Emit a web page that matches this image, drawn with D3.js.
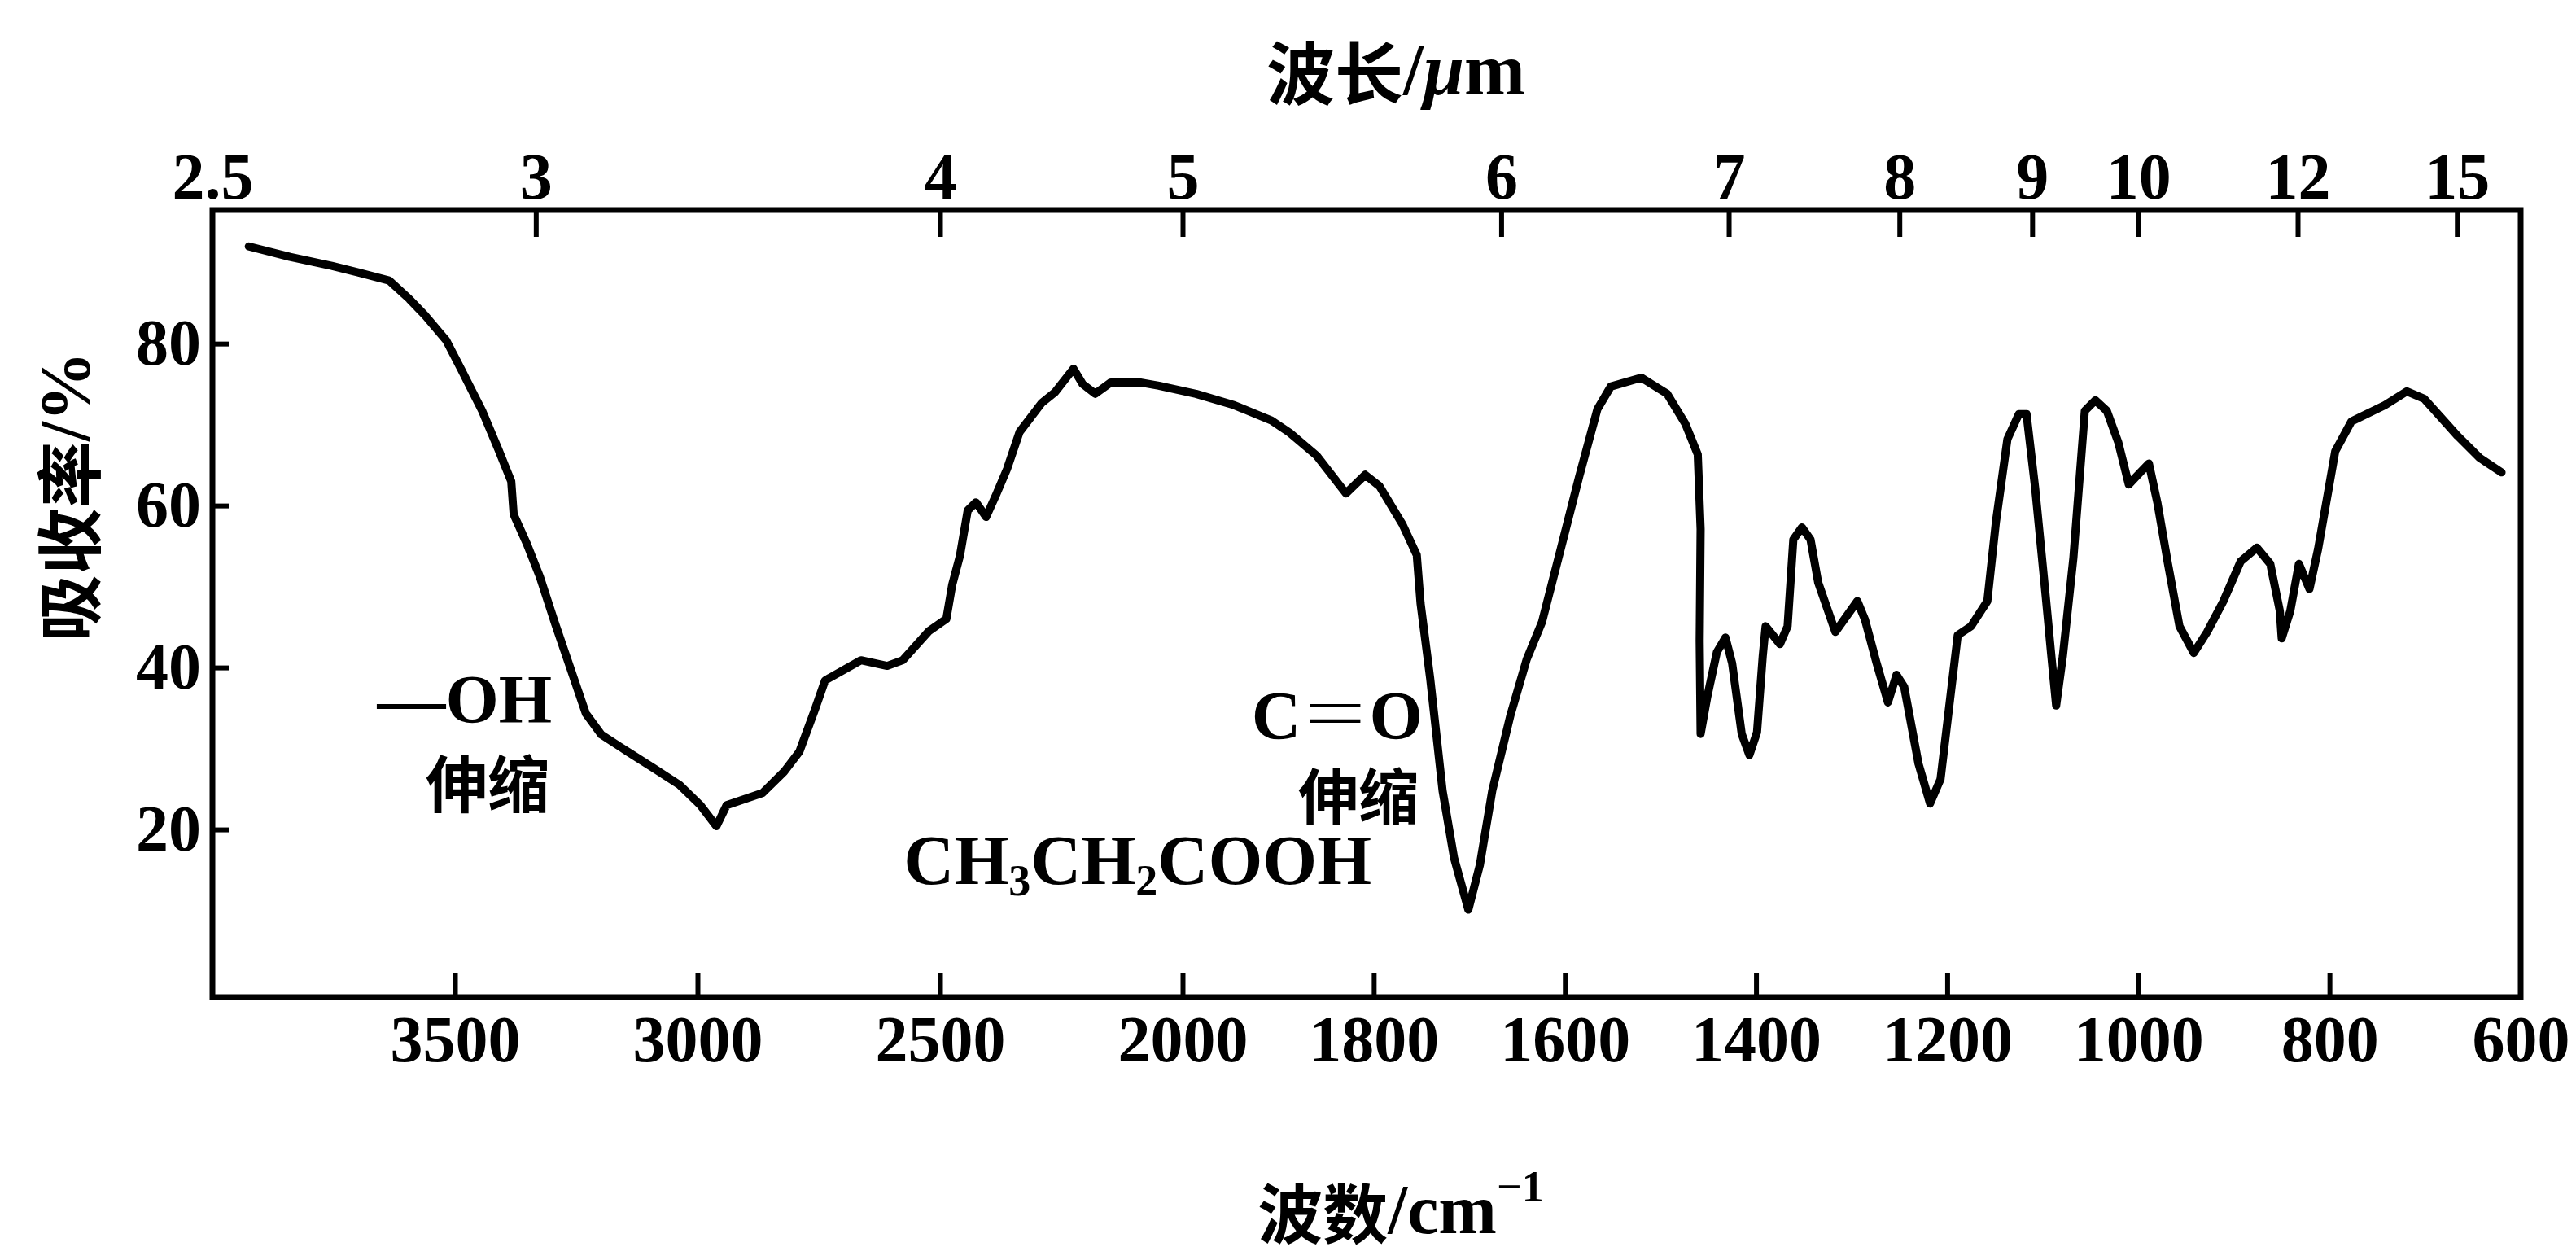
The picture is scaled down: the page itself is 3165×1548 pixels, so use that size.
<!DOCTYPE html>
<html lang="zh">
<head>
<meta charset="UTF-8">
<title>丙酸红外光谱</title>
<script src="https://d3js.org/d3.v7.min.js"></script>
<style>
  body { margin: 0; background: #fff; }
  .num { font-family: "Liberation Serif", serif; font-weight: bold; fill: #000; }
  .cjk { font-family: "Noto Sans CJK SC", sans-serif; font-weight: bold; fill: #000; }
  .tick line { stroke: #000; stroke-width: 6; }
</style>
</head>
<body>
<svg id="chart"></svg>
<script>
// spectrum of CH3CH2COOH (wavenumber cm-1, absorbance %)
const wavenumbers = [3925, 3840, 3754, 3700, 3636, 3594, 3562, 3518, 3487, 3444, 3411, 3384, 3379, 3352, 3325,
  3294, 3262, 3230, 3198, 3144, 3091, 3037, 2994, 2961, 2940, 2866, 2822, 2790, 2758, 2737, 2663, 2609, 2577,
  2523, 2487, 2475, 2459, 2443, 2426, 2405, 2384, 2362, 2336, 2290, 2263, 2225, 2206, 2180, 2148, 2087, 2049,
  1986, 1946, 1907, 1888, 1860, 1829, 1809, 1794, 1770, 1755, 1751, 1741, 1728, 1716, 1701, 1689, 1676, 1657,
  1640, 1624, 1604, 1585, 1566, 1552, 1520, 1493, 1474, 1461, 1458, 1459, 1458, 1451, 1441, 1432, 1425, 1415,
  1407, 1399, 1393, 1390, 1375, 1367, 1361, 1352, 1343, 1335, 1317, 1294, 1286, 1274, 1262, 1253, 1245, 1230,
  1218, 1207, 1189, 1175, 1158, 1149, 1137, 1125, 1117, 1108, 1097, 1091, 1086, 1079, 1068, 1056, 1045, 1033,
  1021, 1010, 998, 989, 980, 969, 957, 942, 928, 911, 893, 876, 862, 852, 850, 841, 832, 821, 812, 794, 777,
  742, 719, 701, 666, 643, 620];
const absorbance = [92.0, 90.7, 89.6, 88.8, 87.8, 85.5, 83.5, 80.4, 76.8, 71.7, 67.0, 63.0, 58.9, 55.3, 51.2,
  45.5, 39.9, 34.3, 31.7, 29.6, 27.6, 25.5, 23.0, 20.4, 23.0, 24.5, 27.1, 29.6, 34.8, 38.4, 40.9, 40.2, 40.9,
  44.5, 46.0, 50.2, 53.8, 59.4, 60.4, 58.6, 61.4, 64.5, 69.1, 72.7, 74.0, 76.9, 75.0, 73.8, 75.2, 75.2, 74.8,
  73.8, 72.4, 70.5, 69.0, 66.2, 61.5, 63.8, 62.4, 57.7, 53.9, 47.9, 38.7, 24.8, 16.5, 10.1, 15.6, 24.8, 34.1,
  41.0, 45.6, 54.8, 63.6, 71.9, 74.7, 75.8, 73.8, 70.1, 66.3, 57.1, 43.3, 31.8, 36.4, 41.9, 43.7, 40.5, 31.8,
  29.2, 32.0, 41.4, 45.1, 42.9, 45.1, 55.8, 57.3, 55.8, 50.5, 44.4, 48.2, 45.9, 40.6, 35.7, 39.1, 37.6, 28.1,
  23.2, 26.2, 44.0, 45.1, 48.2, 58.0, 68.2, 71.3, 71.3, 62.2, 48.9, 41.4, 35.3, 41.4, 53.5, 71.7, 73.0, 71.7,
  67.8, 62.6, 64.1, 65.2, 60.3, 52.8, 45.1, 41.8, 44.4, 48.2, 53.1, 54.8, 52.8, 47.0, 43.6, 47.0, 52.8, 49.7, 54.6, 66.7, 70.4,
  72.4, 74.1, 73.2, 68.6, 65.9, 64.1];

const bottomTicks = [3500, 3000, 2500, 2000, 1800, 1600, 1400, 1200, 1000, 800, 600];
const topTicksMicron = [2.5, 3, 4, 5, 6, 7, 8, 9, 10, 12, 15];
const yTicks = [20, 40, 60, 80];

const width = 3165, height = 1548;
const svg = d3.select("#chart").attr("width", width).attr("height", height);

// the chart paper switches scale at 2000 cm-1 (expanded 2x below it)
const x = d3.scaleLinear().domain([4000, 2000, 600]).range([261, 1453, 3097]);
const y = d3.scaleLinear().domain([-0.7, 96.5]).range([1225, 258]);

// frame
svg.append("rect")
    .attr("x", x(4000)).attr("y", y(96.5))
    .attr("width", x(600) - x(4000)).attr("height", y(-0.7) - y(96.5))
    .attr("fill", "none").attr("stroke", "#000").attr("stroke-width", 7);

// bottom axis, wavenumber
const gBottom = svg.append("g")
    .attr("transform", `translate(0,${y(-0.7)})`)
    .call(d3.axisBottom(x).tickValues(bottomTicks).tickFormat(d3.format("d"))
        .tickSizeInner(-30).tickSizeOuter(0).tickPadding(22));

// top axis, wavelength
const gTop = svg.append("g")
    .attr("transform", `translate(0,${y(96.5)})`)
    .call(d3.axisTop(x).tickValues(topTicksMicron.map(d => 10000 / d))
        .tickFormat((d, i) => topTicksMicron[i]).tickSizeInner(-33).tickSizeOuter(0).tickPadding(14));

// left axis
const gLeft = svg.append("g")
    .attr("transform", `translate(${x(4000)},0)`)
    .call(d3.axisLeft(y).tickValues(yTicks).tickSizeInner(-20).tickSizeOuter(0).tickPadding(14));

[gBottom, gTop, gLeft].forEach(g => {
  g.select(".domain").remove();
  g.selectAll("text").attr("class", "num").attr("font-size", 80);
});
gBottom.selectAll(".tick").filter(d => d === 600).select("line").remove();
gTop.selectAll(".tick").filter((d, i) => i === 0).select("line").remove();

// spectrum
const line = d3.line()
    .x((d, i) => x(wavenumbers[i]))
    .y((d, i) => y(absorbance[i]));

svg.append("path")
    .datum(wavenumbers)
    .attr("d", line)
    .attr("fill", "none")
    .attr("stroke", "#000")
    .attr("stroke-width", 10)
    .attr("stroke-linejoin", "round")
    .attr("stroke-linecap", "round");

// annotations
const oh = svg.append("text").attr("class", "num").attr("font-size", 84)
    .attr("x", x(3300)).attr("y", y(33.2)).attr("text-anchor", "end");
oh.append("tspan").text("—");
oh.append("tspan").text("OH");

svg.append("text").attr("class", "cjk").attr("font-size", 76)
    .attr("x", x(3433)).attr("y", y(26.0))
    .attr("text-anchor", "middle").attr("dominant-baseline", "central")
    .text("伸缩");

const co = svg.append("text").attr("class", "num").attr("font-size", 84)
    .attr("x", x(1749)).attr("y", y(31.2)).attr("text-anchor", "end");
co.append("tspan").text("C");
co.append("tspan").attr("font-family", "Noto Sans CJK SC").attr("font-weight", 300).text("＝");
co.append("tspan").text("O");

svg.append("text").attr("class", "cjk").attr("font-size", 74)
    .attr("x", x(1816)).attr("y", y(24.6))
    .attr("text-anchor", "middle").attr("dominant-baseline", "central")
    .text("伸缩");

const formula = svg.append("text").attr("class", "num").attr("font-size", 86)
    .attr("x", x(2575)).attr("y", y(13.3));
const formulaParts = ["CH", "3", "CH", "2", "COOH"];
formulaParts.forEach((t, i) => {
  const s = formula.append("tspan").text(t);
  if (i % 2 === 1) s.attr("font-size", 54).attr("dy", 14);
  else if (i > 0) s.attr("dy", -14);
});

// axis titles
const topTitle = svg.append("text").attr("x", 1715).attr("y", 85)
    .attr("text-anchor", "middle").attr("dominant-baseline", "central");
topTitle.append("tspan").attr("class", "cjk").attr("font-size", 84).text("波长");
topTitle.append("tspan").attr("class", "num").attr("font-size", 90).text("/");
topTitle.append("tspan").attr("class", "num").attr("font-size", 90).attr("font-style", "italic").text("μ");
topTitle.append("tspan").attr("class", "num").attr("font-size", 90).text("m");

const bottomTitle = svg.append("text").attr("x", 1721).attr("y", 1486)
    .attr("text-anchor", "middle").attr("dominant-baseline", "central");
bottomTitle.append("tspan").attr("class", "cjk").attr("font-size", 80).text("波数");
bottomTitle.append("tspan").attr("class", "num").attr("font-size", 86).text("/cm");
bottomTitle.append("tspan").attr("class", "num").attr("font-size", 54).attr("dy", -28).text("−1");

const yTitle = svg.append("text")
    .attr("transform", "translate(80,610) rotate(-90)")
    .attr("text-anchor", "middle").attr("dominant-baseline", "central");
yTitle.append("tspan").attr("class", "cjk").attr("font-size", 82).text("吸收率");
yTitle.append("tspan").attr("class", "num").attr("font-size", 86).text("/%");
</script>
</body>
</html>
